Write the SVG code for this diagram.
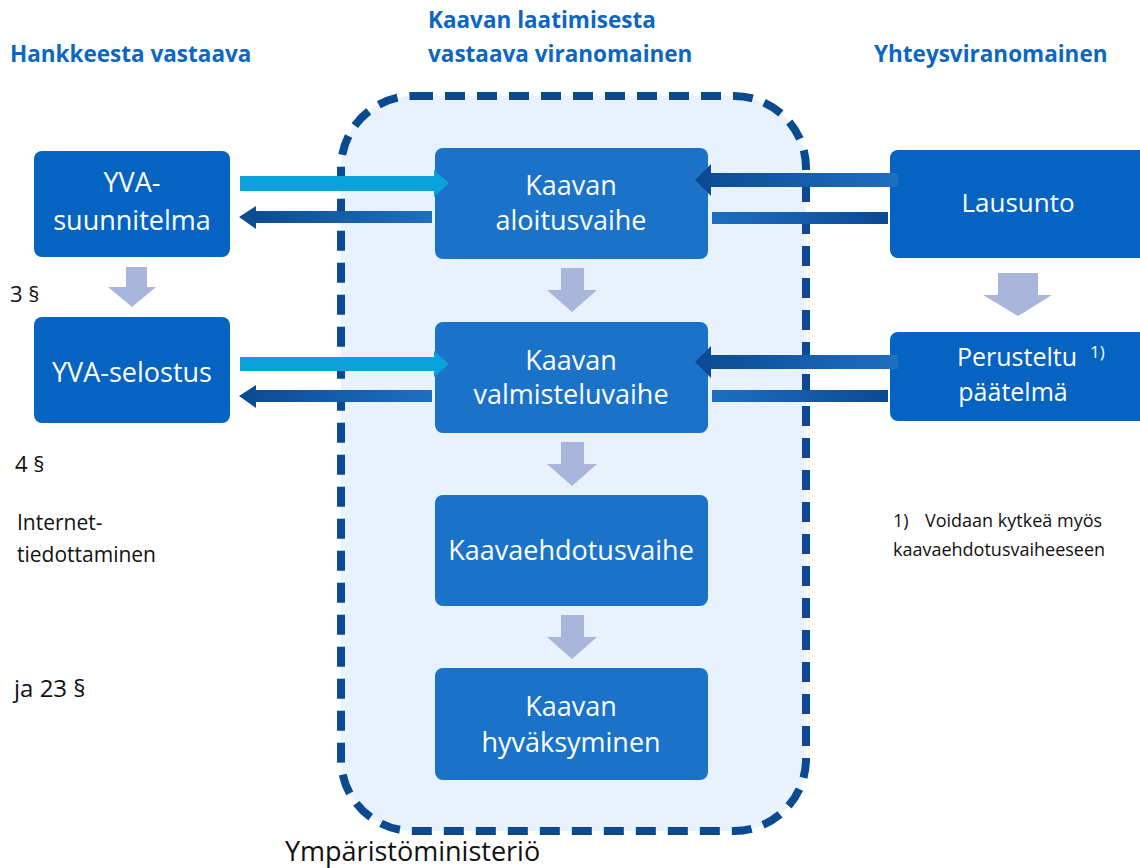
<svg xmlns="http://www.w3.org/2000/svg" width="1140" height="868" viewBox="0 0 1140 868">
<defs>
<linearGradient id="gDark" x1="0" y1="0" x2="1" y2="0">
<stop offset="0" stop-color="#0B4A91"/>
<stop offset="1" stop-color="#1E6EC2"/>
</linearGradient>
<linearGradient id="gDarkR" x1="0" y1="0" x2="1" y2="0">
<stop offset="0" stop-color="#1E6EC2"/>
<stop offset="1" stop-color="#0B4A91"/>
</linearGradient>
<style>
.hdr{font-family:"Open Sans","Noto Sans",sans-serif;font-weight:bold;font-size:22.5px;fill:#0B67C2}
.box{fill:#0563C1}
.cbox{fill:#1A73C8}
.bt{font-family:"Open Sans","Noto Sans",sans-serif;font-size:27px;fill:#ffffff;text-anchor:middle}
.bt25{font-size:25px}
.bt26{font-size:26px}
.note{font-family:"Open Sans","Noto Sans",sans-serif;font-size:20px;fill:#111111}
.n18{font-size:18px}
.n21{font-size:21px}
.n22{font-size:22px}
.n24{font-size:24px}
.down{fill:#A7B6DA}
.light{fill:#0AA2DC}
</style>
</defs>
<rect width="1140" height="868" fill="#ffffff"/>

<g id="headers">
<text class="hdr" x="10" y="62">Hankkeesta vastaava</text>
<text class="hdr" x="428" y="28">Kaavan laatimisesta</text>
<text class="hdr" x="428" y="62">vastaava viranomainen</text>
<text class="hdr" x="874" y="62">Yhteysviranomainen</text>
</g>

<g id="container">
<rect x="341" y="96" width="465" height="735" rx="72" ry="72" fill="#E8F2FC" stroke="#0B4A91" stroke-width="8" stroke-dasharray="20 12"/>
<text x="285" y="861" font-family="'Open Sans','Noto Sans',sans-serif" font-size="27" fill="#111111">Ympäristöministeriö</text>
</g>

<g id="n-yva-suunnitelma">
<rect class="box" x="34" y="151" width="196" height="106" rx="8"/>
<text class="bt" x="132" y="192">YVA-</text>
<text class="bt" x="132" y="230">suunnitelma</text>
</g>
<g id="n-yva-selostus">
<rect class="box" x="34" y="317" width="196" height="106" rx="8"/>
<text class="bt" x="132" y="382">YVA-selostus</text>
</g>

<g id="n-aloitus">
<rect class="cbox" x="435" y="148" width="273" height="111" rx="8"/>
<text class="bt" x="571" y="195">Kaavan</text>
<text class="bt" x="571" y="230">aloitusvaihe</text>
</g>
<g id="n-valmistelu">
<rect class="cbox" x="435" y="322" width="273" height="111" rx="8"/>
<text class="bt" x="571" y="370">Kaavan</text>
<text class="bt" x="571" y="404">valmisteluvaihe</text>
</g>
<g id="n-ehdotus">
<rect class="cbox" x="435" y="495" width="273" height="111" rx="8"/>
<text class="bt" x="571" y="560">Kaavaehdotusvaihe</text>
</g>
<g id="n-hyvaksyminen">
<rect class="cbox" x="435" y="668" width="273" height="112" rx="8"/>
<text class="bt" x="571" y="716">Kaavan</text>
<text class="bt" x="571" y="752">hyväksyminen</text>
</g>

<g id="n-lausunto">
<rect class="box" x="890" y="150" width="258" height="108" rx="8"/>
<text class="bt bt26" x="1018" y="212">Lausunto</text>
</g>
<g id="n-perusteltu">
<rect class="box" x="890" y="332" width="258" height="89" rx="8"/>
<text class="bt bt25" x="1017" y="366">Perusteltu</text>
<text class="bt bt25" x="1013" y="401">päätelmä</text>
<text x="1090" y="358" font-family="'Open Sans','Noto Sans',sans-serif" font-size="17" fill="#ffffff">1)</text>
</g>

<g id="connectors">
<!-- row 1 -->
<polygon class="light" points="240,176 434,176 434,170 449,183 434,197 434,191 240,191"/>
<polygon fill="url(#gDark)" points="432,211 256,211 256,206 239,217 256,229 256,223 432,223"/>
<polygon fill="url(#gDark)" points="898,173 711,173 711,164 695,180 711,196 711,187 898,187"/>
<rect x="712" y="212" width="176" height="12" fill="url(#gDarkR)"/>
<!-- row 2 -->
<polygon class="light" points="240,357 434,357 434,351 449,364 434,377 434,371 240,371"/>
<polygon fill="url(#gDark)" points="432,390 256,390 256,385 239,396 256,408 256,402 432,402"/>
<polygon fill="url(#gDark)" points="898,355 711,355 711,346 695,362 711,378 711,369 898,369"/>
<rect x="712" y="390" width="176" height="12" fill="url(#gDarkR)"/>
<!-- down arrows -->
<polygon class="down" points="126,267 147,267 147,287 156,287 132,307 108,287 126,287"/>
<polygon class="down" points="561,268 584,268 584,290 597,290 572,312 547,290 561,290"/>
<polygon class="down" points="561,442 584,442 584,464 597,464 572,486 547,464 561,464"/>
<polygon class="down" points="561,615 584,615 584,637 597,637 572,659 547,637 561,637"/>
<polygon class="down" points="998,273 1038,273 1038,295 1052,295 1018,316 983,295 998,295"/>
</g>

<g id="notes">
<text class="note n22" x="10" y="302">3 §</text>
<text class="note n22" x="15" y="472">4 §</text>
<text class="note n21" x="17" y="530">Internet-</text>
<text class="note n21" x="17" y="562">tiedottaminen</text>
<text class="note n24" x="14" y="697">ja 23 §</text>
<text class="note n18" x="893" y="527">1)</text>
<text class="note n18" x="925" y="527">Voidaan kytkeä myös</text>
<text class="note n18" x="893" y="556">kaavaehdotusvaiheeseen</text>
</g>
</svg>
